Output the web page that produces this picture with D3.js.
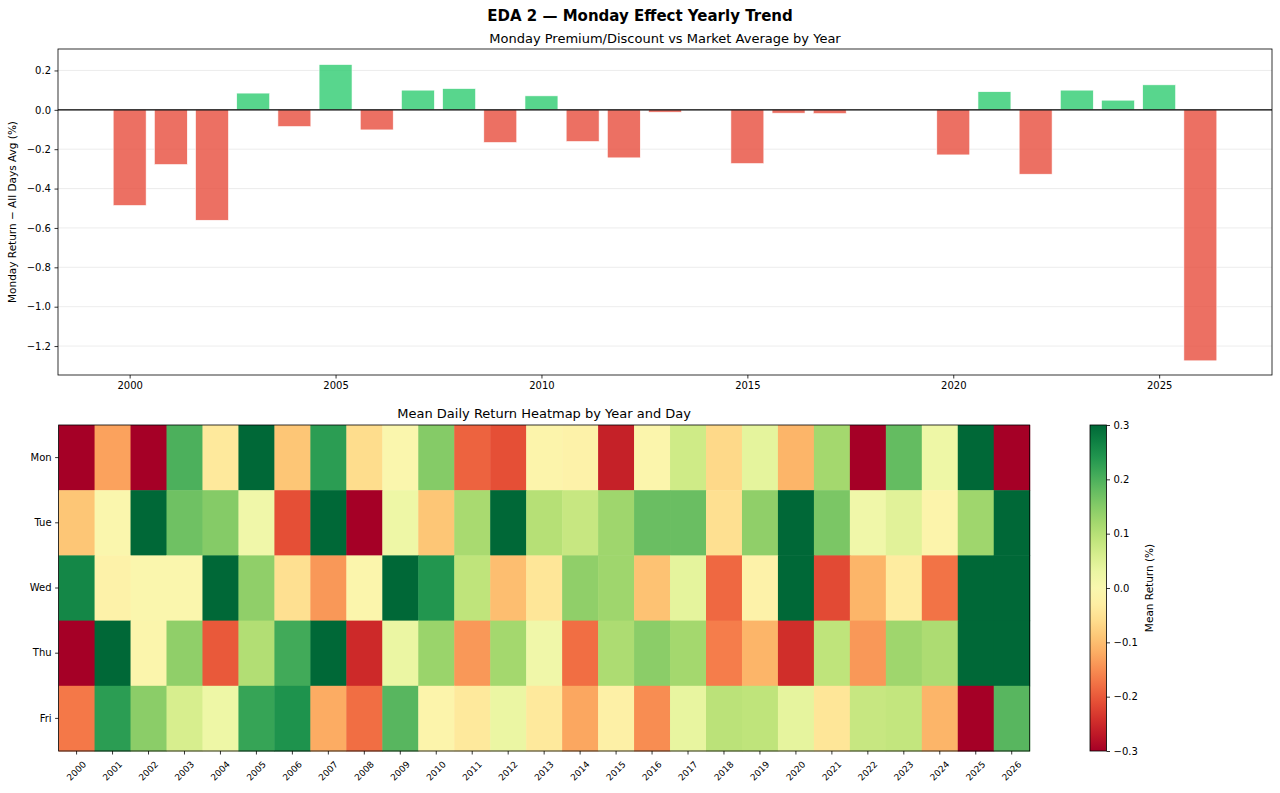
<!DOCTYPE html>
<html>
<head>
<meta charset="utf-8">
<script src="https://cdn.jsdelivr.net/npm/d3@7"></script>
<style>
  body { margin: 0; background: #fff; }
  svg { display: block; font-family: "DejaVu Sans", sans-serif; }
</style>
</head>
<body>
<svg id="chart" width="1280" height="793"></svg>
<script>
// ---------- DATA ----------
const years = d3.range(2000, 2027);
const mondayPremium = [-0.486, -0.278, -0.561, 0.085, -0.085, 0.23, -0.102, 0.10, 0.108, -0.166,
  0.071, -0.161, -0.244, -0.012, 0.0, -0.273, -0.017, -0.019, 0.0, 0.0,
  -0.229, 0.092, -0.327, 0.10, 0.049, 0.127, -1.275];
const days = ["Mon", "Tue", "Wed", "Thu", "Fri"];
const heatMon = [-0.32, -0.13, -0.32, 0.20, -0.04, 0.32, -0.09, 0.23, -0.06, -0.005,
  0.15, -0.19, -0.21, -0.015, -0.02, -0.26, -0.01, 0.07, -0.065, 0.04,
  -0.11, 0.12, -0.32, 0.18, 0.025, 0.32, -0.32];
const heatTue = [-0.09, -0.005, 0.35, 0.17, 0.15, 0.02, -0.21, 0.35, -0.35, 0.025,
  -0.09, 0.115, 0.35, 0.10, 0.08, 0.125, 0.175, 0.175, -0.055, 0.14,
  0.35, 0.16, 0.02, 0.045, -0.015, 0.125, 0.35];
const heatWed = [0.26, -0.02, -0.005, -0.005, 0.32, 0.14, -0.055, -0.14, -0.01, 0.33,
  0.24, 0.09, -0.10, -0.045, 0.14, 0.125, -0.095, 0.04, -0.185, -0.02,
  0.35, -0.215, -0.11, -0.035, -0.175, 0.35, 0.35];
const heatThu = [-0.32, 0.32, -0.01, 0.14, -0.20, 0.105, 0.21, 0.33, -0.25, 0.03,
  0.13, -0.14, 0.12, 0.02, -0.18, 0.11, 0.145, 0.12, -0.165, -0.11,
  -0.245, 0.09, -0.14, 0.125, 0.11, 0.35, 0.35];
const heatFri = [-0.17, 0.23, 0.145, 0.06, 0.025, 0.22, 0.245, -0.12, -0.18, 0.19,
  -0.015, -0.04, 0.03, -0.04, -0.125, -0.025, -0.15, 0.035, 0.095, 0.09,
  0.038, -0.045, 0.08, 0.085, -0.11, -0.32, 0.19];
const heatRows = [heatMon, heatTue, heatWed, heatThu, heatFri];
const barTicks = [-1.2, -1.0, -0.8, -0.6, -0.4, -0.2, 0.0, 0.2];
const barXTicks = [2000, 2005, 2010, 2015, 2020, 2025];
const cbarTicks = [-0.3, -0.2, -0.1, 0.0, 0.1, 0.2, 0.3];

const svg = d3.select("#chart");
const fmt1 = d => d3.format(".1f")(d).replace("-", "\u2212");

// ---------- TITLE ----------
svg.append("text").attr("x", 640).attr("y", 21).attr("text-anchor", "middle")
  .attr("font-size", 15).attr("font-weight", "bold").text("EDA 2 \u2014 Monday Effect Yearly Trend");

// ---------- BAR CHART ----------
const bx0 = 58, bx1 = 1272, by0 = 49, by1 = 375;
const x = d3.scaleLinear().domain([1998.26, 2027.74]).range([bx0, bx1]);
const y = d3.scaleLinear().domain([-1.347, 0.309]).range([by1, by0]);
const gTop = svg.append("g");

gTop.append("text").attr("x", (bx0 + bx1) / 2).attr("y", 43).attr("text-anchor", "middle")
  .attr("font-size", 13).text("Monday Premium/Discount vs Market Average by Year");

// grid
gTop.append("g").selectAll("line").data(barTicks).join("line")
  .attr("x1", bx0).attr("x2", bx1).attr("y1", d => y(d)).attr("y2", d => y(d))
  .attr("stroke", "#b0b0b0").attr("stroke-opacity", 0.3).attr("stroke-width", 0.8);

// bars
gTop.append("g").selectAll("rect").data(years.map((yr, i) => ({ yr, v: mondayPremium[i] })))
  .join("rect")
  .attr("x", d => x(d.yr - 0.4)).attr("width", d => x(d.yr + 0.4) - x(d.yr - 0.4))
  .attr("y", d => y(Math.max(0, d.v))).attr("height", d => Math.abs(y(d.v) - y(0)))
  .attr("fill", d => d.v >= 0 ? "#2ecc71" : "#e74c3c").attr("fill-opacity", 0.8)
  .attr("stroke", "#fff").attr("stroke-width", 0.6);

// zero line
gTop.append("line").attr("x1", bx0).attr("x2", bx1).attr("y1", y(0)).attr("y2", y(0))
  .attr("stroke", "#000").attr("stroke-width", 1.2);

// axes
const yAx = gTop.append("g").attr("transform", `translate(${bx0},0)`)
  .call(d3.axisLeft(y).tickValues(barTicks).tickFormat(fmt1).tickSizeOuter(0).tickSize(3.5).tickPadding(3.5));
const xAx = gTop.append("g").attr("transform", `translate(0,${by1})`)
  .call(d3.axisBottom(x).tickValues(barXTicks).tickFormat(d3.format("d")).tickSizeOuter(0).tickSize(3.5).tickPadding(3.5));
[yAx, xAx].forEach(g => {
  g.select(".domain").remove();
  g.selectAll("text").attr("font-size", 10).attr("fill", "#000").attr("font-family", "DejaVu Sans");
  g.selectAll("line").attr("stroke", "#000").attr("stroke-width", 0.8);
});
gTop.append("rect").attr("x", bx0).attr("y", by0).attr("width", bx1 - bx0).attr("height", by1 - by0)
  .attr("fill", "none").attr("stroke", "#000").attr("stroke-width", 0.8);
gTop.append("text").attr("transform", `translate(16,${(by0 + by1) / 2}) rotate(-90)`)
  .attr("text-anchor", "middle").attr("font-size", 10.5)
  .text("Monday Return \u2212 All Days Avg (%)");

// ---------- HEATMAP ----------
const hx0 = 58.6, hx1 = 1029.7, hy0 = 425, hy1 = 751;
const hx = d3.scaleBand().domain(years).range([hx0, hx1]);
const hy = d3.scaleBand().domain(days).range([hy0, hy1]);
const color = v => d3.interpolateRdYlGn((Math.max(-0.3, Math.min(0.3, v)) + 0.3) / 0.6);
const hm = svg.append("g");

hm.append("text").attr("x", (hx0 + hx1) / 2).attr("y", 418).attr("text-anchor", "middle")
  .attr("font-size", 13).text("Mean Daily Return Heatmap by Year and Day");

const cells = [];
days.forEach((d, r) => years.forEach((yr, c) => cells.push({ d, yr, v: heatRows[r][c] })));
hm.append("g").selectAll("rect").data(cells).join("rect")
  .attr("x", d => hx(d.yr)).attr("y", d => hy(d.d))
  .attr("width", hx.bandwidth() + 0.5).attr("height", hy.bandwidth() + 0.5)
  .attr("fill", d => color(d.v));

const hyAx = hm.append("g").attr("transform", `translate(${hx0},0)`)
  .call(d3.axisLeft(hy).tickSize(3.5).tickPadding(3.5).tickSizeOuter(0));
hyAx.select(".domain").remove();
hyAx.selectAll("text").attr("font-size", 10).attr("font-family", "DejaVu Sans");
hyAx.selectAll("line").attr("stroke", "#000").attr("stroke-width", 0.8);

const hxAx = hm.append("g").attr("transform", `translate(0,${hy1})`)
  .call(d3.axisBottom(hx).tickSize(3.5).tickSizeOuter(0).tickFormat(d3.format("d")));
hxAx.select(".domain").remove();
hxAx.selectAll("line").attr("stroke", "#000").attr("stroke-width", 0.8);
hxAx.selectAll("text").attr("font-size", 9).attr("font-family", "DejaVu Sans")
  .attr("text-anchor", "middle").attr("dy", null).attr("y", null)
  .attr("transform", "translate(0,20) rotate(-45)").attr("dominant-baseline", "central");

hm.append("rect").attr("x", hx0).attr("y", hy0).attr("width", hx1 - hx0).attr("height", hy1 - hy0)
  .attr("fill", "none").attr("stroke", "#000").attr("stroke-width", 0.8);

// ---------- COLORBAR ----------
const cx0 = 1090, cx1 = 1106.5;
const cy = d3.scaleLinear().domain([-0.3, 0.3]).range([hy1, hy0]);
const defs = svg.append("defs");
const grad = defs.append("linearGradient").attr("id", "cbar").attr("x1", 0).attr("y1", 1).attr("x2", 0).attr("y2", 0);
d3.range(0, 1.0001, 0.05).forEach(t => grad.append("stop").attr("offset", t).attr("stop-color", d3.interpolateRdYlGn(t)));
svg.append("rect").attr("x", cx0).attr("y", hy0).attr("width", cx1 - cx0).attr("height", hy1 - hy0)
  .attr("fill", "url(#cbar)").attr("stroke", "#000").attr("stroke-width", 0.8);
const cAx = svg.append("g").attr("transform", `translate(${cx1},0)`)
  .call(d3.axisRight(cy).tickValues(cbarTicks).tickFormat(fmt1).tickSize(3.5).tickPadding(3.5).tickSizeOuter(0));
cAx.select(".domain").remove();
cAx.selectAll("text").attr("font-size", 10).attr("font-family", "DejaVu Sans");
cAx.selectAll("line").attr("stroke", "#000").attr("stroke-width", 0.8);
svg.append("text").attr("transform", `translate(1153,${(hy0 + hy1) / 2}) rotate(-90)`)
  .attr("text-anchor", "middle").attr("font-size", 10.5).text("Mean Return (%)");
</script>
</body>
</html>
